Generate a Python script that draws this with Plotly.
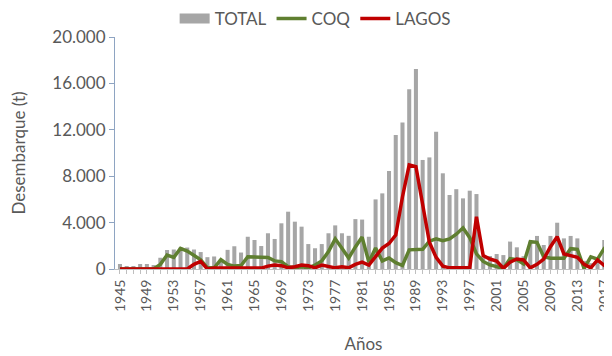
import plotly.graph_objects as go

years = list(range(1945, 2019))

total = [430, 260, 260, 430, 430, 340, 970, 1640, 1680, 1850,
         1850, 1680, 1460, 1020, 1080, 830, 1650, 1960, 1420, 2780,
         2500, 1980, 3080, 2590, 3940, 4940, 4080, 3650, 2150, 1790,
         2150, 3080, 3760, 3080, 2860, 4300, 4260, 2780, 6000, 6520,
         8450, 11550, 12640, 15500, 17240, 9400, 9620, 11840, 8250, 6380,
         6880, 6090, 6750, 6460, 1100, 1120, 1290, 1200, 2360, 1870,
         1100, 2360, 2850, 2070, 2850, 3990, 2640, 2850, 2640, 700,
         500, 900, 2500, 2400]

coq = [0, 0, 0, 0, 0, 0, 400, 1200, 1000, 1780,
       1550, 1200, 800, 100, 100, 800, 400, 250, 300, 1060,
       1060, 1000, 1000, 700, 640, 200, 100, 200, 100, 340,
       700, 1500, 2600, 1780, 950, 1900, 2750, 600, 1800, 700,
       950, 550, 300, 1650, 1650, 1700, 2400, 2600, 2450, 2600,
       3000, 3550, 2700, 1300, 650, 350, 200, 50, 900, 800,
       450, 2350, 2300, 1050, 920, 950, 920, 1750, 1700, 50,
       1050, 850, 1780, 2300]

lagos = [0, 0, 0, 0, 0, 0, 0, 0, 0, 0,
         0, 400, 660, 0, 80, 80, 80, 80, 80, 80,
         80, 80, 250, 340, 290, 100, 200, 340, 290, 100,
         340, 200, 100, 200, 100, 400, 600, 340, 1060, 1800,
         2200, 2930, 6230, 8970, 8820, 5370, 2300, 1000, 250, 100,
         100, 100, 100, 4500, 1150, 860, 690, 60, 580, 860,
         780, 100, 400, 860, 1920, 2780, 1300, 1150, 1000, 400,
         100, 780, 300, 300]

FONT = "Lato"
TXT = "#595959"
GRAY = "#A6A6A6"

fig = go.Figure()
fig.add_trace(go.Bar(x=years, y=total, name="TOTAL", marker_color=GRAY,
                     width=0.6, marker_line_width=0, showlegend=False))
# legend proxy for the bar series (wide rectangle swatch)
fig.add_trace(go.Scatter(x=[None], y=[None], name="TOTAL", mode="lines",
                         line=dict(color=GRAY, width=12)))
fig.add_trace(go.Scatter(x=years, y=coq, name="COQ", mode="lines",
                         line=dict(color="#5F7F30", width=3.5)))
fig.add_trace(go.Scatter(x=years, y=lagos, name="LAGOS", mode="lines",
                         line=dict(color="#C00000", width=3.5)))

fig.update_layout(
    width=604, height=348,
    margin=dict(l=107, r=0, t=29, b=87, autoexpand=False),
    paper_bgcolor="white", plot_bgcolor="white",
    separators=",.",
    font=dict(family=FONT, color=TXT, size=16),
    showlegend=True,
    legend=dict(orientation="h", x=0.12, xanchor="left", y=1.078, yanchor="middle",
                font=dict(size=17, color=TXT), itemwidth=30,
                bgcolor="rgba(0,0,0,0)", tracegroupgap=0),
    xaxis=dict(range=[1944.26, 2018.15], tick0=1945, dtick=4,
               tickangle=-90, ticks="outside", ticklen=4, tickcolor="#BFBFBF",
               ticklabeloverflow="allow",
               showline=True, linecolor="#BFBFBF", linewidth=1,
               showgrid=False, zeroline=False,
               tickfont=dict(size=14, color=TXT),
               minor=dict(dtick=1, ticks="outside", ticklen=4, tickcolor="#BFBFBF"),
               title=dict(text="Años", font=dict(size=17, color=TXT), standoff=27)),
    yaxis=dict(range=[0, 20000], dtick=4000, tickformat=",d",
               ticks="outside", ticklen=5, tickcolor="#8EA4C2",
               showline=True, linecolor="#8EA4C2", linewidth=1,
               showgrid=False, zeroline=False,
               tickfont=dict(size=17, color=TXT),
               title=dict(text="Desembarque (t)", font=dict(size=17, color=TXT), standoff=22)),
)

fig.write_html("out.html")
